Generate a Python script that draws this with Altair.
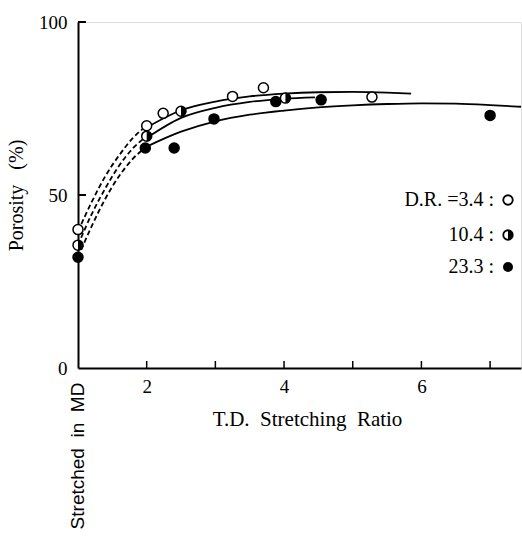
import altair as alt
import pandas as pd

# ---- data ----
open_x = [1.0, 2.0, 2.24, 3.25, 3.7, 5.28]
open_y = [40, 70, 73.6, 78.5, 81, 78.3]
half_x = [1.0, 2.0, 2.5, 4.02]
half_y = [35.5, 67, 74.2, 78]
fill_x = [1.0, 1.98, 2.4, 2.98, 3.88, 4.54, 7.0]
fill_y = [32, 63.6, 63.6, 72, 77, 77.5, 73]

# solid fitted curves
c1_x = [2.0, 2.5, 3.0, 3.5, 4.0, 4.5, 5.0, 5.5, 5.85]
c1_y = [69.5, 74.5, 77.0, 78.5, 79.3, 79.7, 79.8, 79.6, 79.3]
c2_x = [2.0, 2.5, 3.0, 3.5, 4.0, 4.45]
c2_y = [66.5, 72.3, 75.2, 76.9, 77.8, 78.2]
c3_x = [2.0, 2.5, 3.0, 3.5, 4.0, 4.5, 5.0, 5.5, 6.0, 6.5, 7.0, 7.45]
c3_y = [64.0, 68.3, 71.3, 73.2, 74.4, 75.3, 75.9, 76.3, 76.5, 76.4, 76.0, 75.5]

# dashed extrapolations
d1_x = [1.0, 1.2, 1.4, 1.6, 1.8, 2.0]
d1_y = [39.5, 48, 55.5, 61.5, 66.5, 70]
d2_x = [1.0, 1.2, 1.4, 1.6, 1.8, 2.0]
d2_y = [35.5, 44.5, 52, 58.5, 63.5, 67]
d3_x = [1.0, 1.2, 1.4, 1.6, 1.8, 2.0]
d3_y = [32, 41, 49, 55.5, 60.5, 64]

x_ticks = [2, 3, 4, 5, 6, 7]
x_labels = [2, 4, 6]
y_ticks = [50, 100]
y_labels = [0, 50, 100]

NB = "\u00a0"
legend_labels = ["D.R." + NB + "=3.4" + NB + ":", "10.4" + NB + ":", "23.3" + NB + ":"]
x_title = "T.D." + NB * 2 + "Stretching" + NB * 2 + "Ratio"
y_title = "Porosity" + NB * 3 + "(%)"
md_label = "Stretched" + NB * 2 + "in" + NB * 2 + "MD"

W, H = 443, 346
SERIF = "Times New Roman"

def curves(xs_ys):
    rows = []
    for name, xs, ys in xs_ys:
        for x, y in zip(xs, ys):
            rows.append({"s": name, "x": x, "y": y})
    return pd.DataFrame(rows)

solid_df = curves([("a", c1_x, c1_y), ("b", c2_x, c2_y), ("c", c3_x, c3_y)])
dash_df = curves([("a", d1_x, d1_y), ("b", d2_x, d2_y), ("c", d3_x, d3_y)])
open_df = pd.DataFrame({"x": open_x, "y": open_y})
half_df = pd.DataFrame({"x": half_x, "y": half_y})
fill_df = pd.DataFrame({"x": fill_x, "y": fill_y})

xs = alt.Scale(domain=[1, 7.45], nice=False, zero=False)
ys = alt.Scale(domain=[0, 100], nice=False)

X = alt.X("x:Q", scale=xs, axis=alt.Axis(
    values=x_labels, title=x_title, ticks=False, grid=False,
    domainColor="black", domainWidth=2, labelPadding=9, labelFontSize=19,
    labelFont=SERIF, labelColor="black", titleFont=SERIF, titleFontSize=21,
    titleFontWeight="normal", titleColor="black", titlePadding=12, format="d",
    titleX=229))
Y = alt.Y("y:Q", scale=ys, axis=alt.Axis(
    values=y_labels, title=y_title, ticks=False, grid=False,
    domainColor="black", domainWidth=2, labelPadding=11, labelFontSize=19,
    labelFont=SERIF, labelColor="black", titleFont=SERIF, titleFontSize=20,
    titleFontWeight="normal", titleColor="black", titlePadding=12, format="d"))

dashed = alt.Chart(dash_df).mark_line(
    color="black", strokeWidth=1.8, strokeDash=[5, 3], interpolate="monotone"
).encode(x=X, y=Y, detail="s:N")

solid = alt.Chart(solid_df).mark_line(
    color="black", strokeWidth=1.8, interpolate="monotone"
).encode(x="x:Q", y="y:Q", detail="s:N")

SZ = 100
pts_fill = alt.Chart(fill_df).mark_point(
    shape="circle", size=SZ, filled=True, fill="black", stroke="black",
    strokeWidth=1.5, opacity=1
).encode(x="x:Q", y="y:Q")
pts_half_base = alt.Chart(half_df).mark_point(
    shape="circle", size=SZ, fill="white", stroke="black", strokeWidth=1.5,
    opacity=1, fillOpacity=1
).encode(x="x:Q", y="y:Q")
HALF = "M0,-1 A1,1 0 0,1 0,1 Z"
pts_half_top = alt.Chart(half_df).mark_point(
    shape=HALF, size=SZ, filled=True, fill="black", strokeWidth=0, opacity=1
).encode(x="x:Q", y="y:Q")
pts_open = alt.Chart(open_df).mark_point(
    shape="circle", size=SZ, fill="white", stroke="black", strokeWidth=1.5,
    opacity=1, fillOpacity=1
).encode(x="x:Q", y="y:Q")

xt_df = pd.DataFrame({"x": x_ticks})
xtick = alt.Chart(xt_df).mark_rule(color="black", strokeWidth=1.5).encode(
    x="x:Q", y=alt.value(H), y2=alt.value(H - 7))
yt_df = pd.DataFrame({"y": y_ticks})
ytick = alt.Chart(yt_df).mark_rule(color="black", strokeWidth=2).encode(
    y="y:Q", x=alt.value(0), x2=alt.value(8))

LEG_Y = [178, 213, 245]
leg_text = []
for i, lab in enumerate(legend_labels):
    d = pd.DataFrame({"label": [lab]})
    leg_text.append(alt.Chart(d).mark_text(
        font=SERIF, fontSize=20, align="right", baseline="middle", color="black"
    ).encode(text="label:N", x=alt.value(416), y=alt.value(LEG_Y[i])))
sym_o = alt.Chart(pd.DataFrame({"k": [0]})).mark_point(
    shape="circle", size=90, fill="white", stroke="black", strokeWidth=1.8,
    opacity=1, fillOpacity=1).encode(x=alt.value(430), y=alt.value(LEG_Y[0]))
sym_h1 = alt.Chart(pd.DataFrame({"k": [1]})).mark_point(
    shape="circle", size=90, fill="white", stroke="black", strokeWidth=1.8,
    opacity=1, fillOpacity=1).encode(x=alt.value(430), y=alt.value(LEG_Y[1]))
sym_h2 = alt.Chart(pd.DataFrame({"k": [1]})).mark_point(
    shape=HALF, size=90, filled=True, fill="black", strokeWidth=0,
    opacity=1).encode(x=alt.value(430), y=alt.value(LEG_Y[1]))
sym_f = alt.Chart(pd.DataFrame({"k": [2]})).mark_point(
    shape="circle", size=100, filled=True, fill="black", opacity=1
).encode(x=alt.value(430), y=alt.value(LEG_Y[2]))

md_text = alt.Chart(pd.DataFrame({"t": [md_label]})).mark_text(
    font="Liberation Sans", fontSize=19, angle=270, align="center",
    baseline="middle", color="black"
).encode(text="t:N", x=alt.datum(1), y=alt.value(434))

chart = alt.layer(
    dashed, solid, xtick, ytick, pts_fill, pts_half_base, pts_half_top, pts_open,
    *leg_text, sym_o, sym_h1, sym_h2, sym_f, md_text
).properties(
    width=W, height=H,
    autosize=alt.AutoSizeParams(type="none"),
    padding={"left": 78, "top": 22, "right": 1, "bottom": 168},
).configure_view(stroke=None).configure_axis(
    labelFont=SERIF, titleFont=SERIF
).configure(background="white")

chart.save("out.html", embed_options={"renderer": "svg", "actions": False})
